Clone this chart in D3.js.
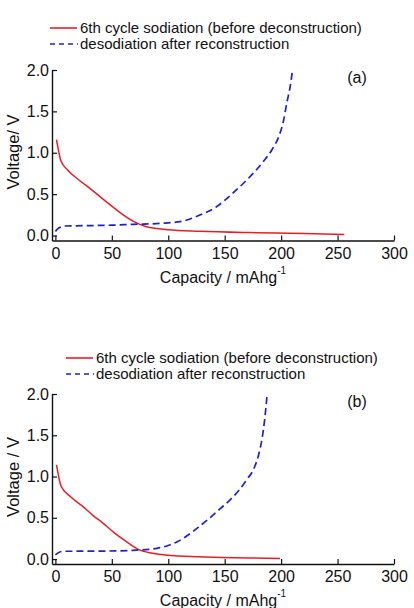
<!DOCTYPE html>
<html>
<head>
    <meta charset="utf-8">
    <title>Sodiation / desodiation curves</title>
    <script src="https://cdn.jsdelivr.net/npm/d3@7"></script>
    <style>
        body { margin: 0; background: #fff; }
        text { font-family: Arial, "Liberation Sans", sans-serif; fill: #111; }
    </style>
</head>
<body>
    <svg width="414" height="608" id="mainsvg"></svg>
    <script>
        // data (capacity in mAh/g, voltage in V)
        const xTicks = [0, 50, 100, 150, 200, 250, 300];
        const yTicks = [0, 0.5, 1.0, 1.5, 2.0];
        const legendLabels = ['6th cycle sodiation (before deconstruction)', 'desodiation after reconstruction'];

        const redCapA = [1, 5, 11, 20, 30, 40, 50, 60, 70, 80, 90, 100, 128, 172, 220, 256];
        const redVoltA = [1.16, 0.90, 0.79, 0.68, 0.575, 0.465, 0.355, 0.25, 0.165, 0.11, 0.085, 0.07, 0.052, 0.036, 0.025, 0.012];
        const blueCapA = [0, 3, 9, 30, 50, 69, 93, 113, 128, 143, 157, 168, 184, 192, 198, 202, 205, 208, 210];
        const blueVoltA = [0.05, 0.09, 0.115, 0.12, 0.125, 0.135, 0.147, 0.175, 0.247, 0.35, 0.51, 0.65, 0.89, 1.04, 1.2, 1.38, 1.6, 1.8, 1.99];

        const redCapB = [1, 5, 13, 25, 34, 40, 52, 62, 73, 85, 99, 128, 172, 199];
        const redVoltB = [1.14, 0.885, 0.76, 0.63, 0.52, 0.46, 0.32, 0.22, 0.12, 0.072, 0.047, 0.028, 0.013, 0.008];
        const blueCapB = [0, 3, 7, 40, 69, 90, 100, 108, 122, 128, 137, 146, 155, 163, 170, 176, 180, 183, 185.5, 187.5];
        const blueVoltB = [0.05, 0.08, 0.094, 0.096, 0.106, 0.13, 0.165, 0.21, 0.335, 0.40, 0.5, 0.61, 0.72, 0.84, 0.97, 1.1, 1.26, 1.45, 1.7, 1.98];

        const svg = d3.select('#mainsvg');
        const red = '#ec1c24', blue = '#2020d2';

        function panel(opt) {
            const x = d3.scaleLinear().domain([-3, 300]).range([52, 394]);
            const y = d3.scaleLinear().domain([-0.06, 2.0]).range([opt.bottom, opt.top]);
            const g = svg.append('g');

            // legend
            const ly = opt.legendY;
            g.append('line').attr('x1', opt.legendX).attr('x2', opt.legendX + 27)
                .attr('y1', ly).attr('y2', ly).attr('stroke', red).attr('stroke-width', 1.6);
            g.append('line').attr('x1', opt.legendX).attr('x2', opt.legendX + 28)
                .attr('y1', ly + 16).attr('y2', ly + 16).attr('stroke', blue).attr('stroke-width', 1.6)
                .attr('stroke-dasharray', '5,4');
            g.selectAll('text.leg').data(legendLabels).join('text').attr('class', 'leg')
                .attr('x', opt.legendX + 30).attr('y', (d, i) => ly + 16 * i + 5)
                .style('font-size', '15px').text(d => d);

            // axes (left + bottom only, ticks pointing inward)
            const xAxis = d3.axisBottom(x).tickValues(xTicks).tickSizeInner(-5).tickSizeOuter(0).tickPadding(7);
            const yAxis = d3.axisLeft(y).tickValues(yTicks).tickSizeInner(-5).tickSizeOuter(0).tickPadding(3)
                .tickFormat(d3.format('.1f'));
            const gx = g.append('g').attr('transform', `translate(0,${opt.bottom})`).call(xAxis);
            const gy = g.append('g').attr('transform', 'translate(52,0)').call(yAxis);
            [gx, gy].forEach(a => {
                a.select('.domain').attr('stroke', '#111').attr('stroke-width', 1.4);
                a.selectAll('.tick line').attr('stroke', '#111').attr('stroke-width', 1.2);
                a.selectAll('.tick text').style('font-size', '16px').attr('fill', '#111');
            });

            // axis titles
            const xt = g.append('text').attr('x', 223).attr('y', opt.bottom + 42)
                .attr('text-anchor', 'middle').style('font-size', '16px');
            xt.append('tspan').text('Capacity / mAhg');
            xt.append('tspan').attr('dy', -9).style('font-size', '10px').text('-1');
            g.append('text').attr('transform', `translate(19,${opt.labelMid}) rotate(-90)`)
                .attr('text-anchor', 'middle').style('font-size', '16.5px').text(opt.ylabel);

            g.append('text').attr('x', 357).attr('y', opt.top + 13).attr('text-anchor', 'middle')
                .style('font-size', '16px').text(opt.tag);

            const line = d3.line().x(d => x(d[0])).y(d => y(d[1])).curve(d3.curveMonotoneX);
            g.append('path').datum(d3.zip(opt.redCap, opt.redVolt)).attr('d', line)
                .attr('fill', 'none').attr('stroke', red).attr('stroke-width', 1.5);
            g.append('path').datum(d3.zip(opt.blueCap, opt.blueVolt)).attr('d', line)
                .attr('fill', 'none').attr('stroke', blue).attr('stroke-width', 1.7)
                .attr('stroke-dasharray', '7,4');
        }

        panel({ top: 70, bottom: 240.5, legendX: 50, legendY: 28, labelMid: 152, ylabel: 'Voltage/ V', tag: '(a)',
            redCap: redCapA, redVolt: redVoltA, blueCap: blueCapA, blueVolt: blueVoltA });
        panel({ top: 394, bottom: 564, legendX: 66, legendY: 358, labelMid: 477, ylabel: 'Voltage / V', tag: '(b)',
            redCap: redCapB, redVolt: redVoltB, blueCap: blueCapB, blueVolt: blueVoltB });
    </script>
</body>
</html>
